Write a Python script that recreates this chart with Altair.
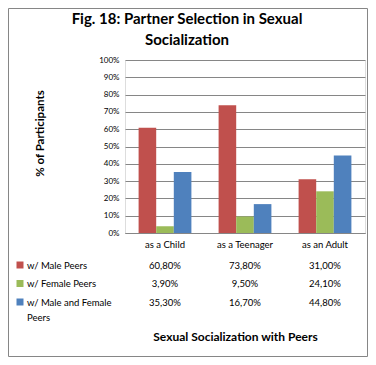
import altair as alt
import pandas as pd

categories = ["as a Child", "as a Teenager", "as an Adult"]
series = ["w/ Male Peers", "w/ Female Peers", "w/ Male and Female Peers"]
series_labels = ["w/ Male Peers", "w/ Female Peers", "w/ Male and Female\nPeers"]
male = [60.8, 73.8, 31.0]
female = [3.9, 9.5, 24.1]
both = [35.3, 16.7, 44.8]
colors = ["#C0504D", "#9BBB59", "#4F81BD"]
y_ticks = [0, 10, 20, 30, 40, 50, 60, 70, 80, 90, 100]
title_lines = ["Fig. 18: Partner Selection in Sexual", "Socialization"]

rows = []
for s, vals in zip(series, [male, female, both]):
    for c, v in zip(categories, vals):
        rows.append({"category": c, "series": s, "value": v,
                     "label": f"{v:.2f}".replace(".", ",") + "%"})
df = pd.DataFrame(rows)
leg = pd.DataFrame({"series": series, "text": series_labels})

FONT = "Lato"
GRID = "#868686"

xscale = alt.Scale(domain=categories, paddingInner=0.34, paddingOuter=0.17)
cscale = alt.Scale(domain=series, range=colors)
rowscale = alt.Scale(domain=series, range=[205, 242], padding=0)

bars = alt.Chart(df).mark_bar().encode(
    x=alt.X("category:N", scale=xscale, sort=categories,
            axis=alt.Axis(title="Sexual Socialization with Peers", labelAngle=0,
                          labelFontSize=9.5, labelFont=FONT, labelColor="#000",
                          labelPadding=6, ticks=False, domainColor=GRID,
                          titleFont=FONT, titleFontSize=12, titleFontWeight="bold",
                          titleColor="#000", titleX=110, titleY=103,
                          titleBaseline="middle")),
    xOffset=alt.XOffset("series:N", sort=series),
    y=alt.Y("value:Q", scale=alt.Scale(domain=[0, 100]),
            axis=alt.Axis(values=y_ticks, labelExpr="datum.value + '%'",
                          labelFontSize=8, labelFont=FONT, labelColor="#000",
                          ticks=False, domain=False, gridColor=GRID, grid=True,
                          labelPadding=6, title="% of Participants",
                          titleFont=FONT, titleFontSize=11.5, titleFontWeight="bold",
                          titleColor="#000", titleX=-85, titleY=73,
                          titleBaseline="middle", titleAlign="center")),
    color=alt.Color("series:N", scale=cscale, legend=None),
)

table = alt.Chart(df).mark_text(font=FONT, fontSize=9.5, baseline="alphabetic",
                                dy=3.5, color="#000").encode(
    x=alt.X("category:N", scale=xscale, sort=categories),
    y=alt.Y("series:N", scale=rowscale, axis=None),
    text="label:N",
)

swatch = alt.Chart(leg).mark_square(size=49, opacity=1).encode(
    x=alt.value(-105),
    y=alt.Y("series:N", scale=rowscale, axis=None),
    color=alt.Color("series:N", scale=cscale, legend=None),
)

legtext = alt.Chart(leg).mark_text(font=FONT, fontSize=9.5, align="left",
                                   baseline="alphabetic", dy=3.5, lineBreak="\n",
                                   lineHeight=15, color="#000").encode(
    x=alt.value(-98),
    y=alt.Y("series:N", scale=rowscale, axis=None),
    text="text:N",
)

border = alt.Chart(pd.DataFrame({"a": [0]})).mark_rect(
    fill=None, stroke=GRID, strokeWidth=1).encode(
    x=alt.value(-116.5), x2=alt.value(242.5),
    y=alt.value(-51.5), y2=alt.value(296.5),
)

title = alt.Chart(pd.DataFrame({"t": title_lines, "i": [0, 1]})).mark_text(
    font=FONT, fontSize=15, fontWeight="bold", color="#000", align="center",
    baseline="middle").encode(
    x=alt.value(62),
    y=alt.Y("i:O", scale=alt.Scale(domain=[0, 1], range=[-41, -20], padding=0),
            axis=None),
    text="t:N",
)

chart = alt.layer(border, bars, table, swatch, legtext, title).resolve_scale(
    y="independent"
).properties(
    width=240, height=173,
    autosize=alt.AutoSizeParams(type="none"),
    padding={"left": 117, "top": 52, "right": 3, "bottom": 124},
).configure_view(stroke=GRID, strokeWidth=1).configure(background="white")

chart.save("out.html", embed_options={"renderer": "svg", "actions": False})
